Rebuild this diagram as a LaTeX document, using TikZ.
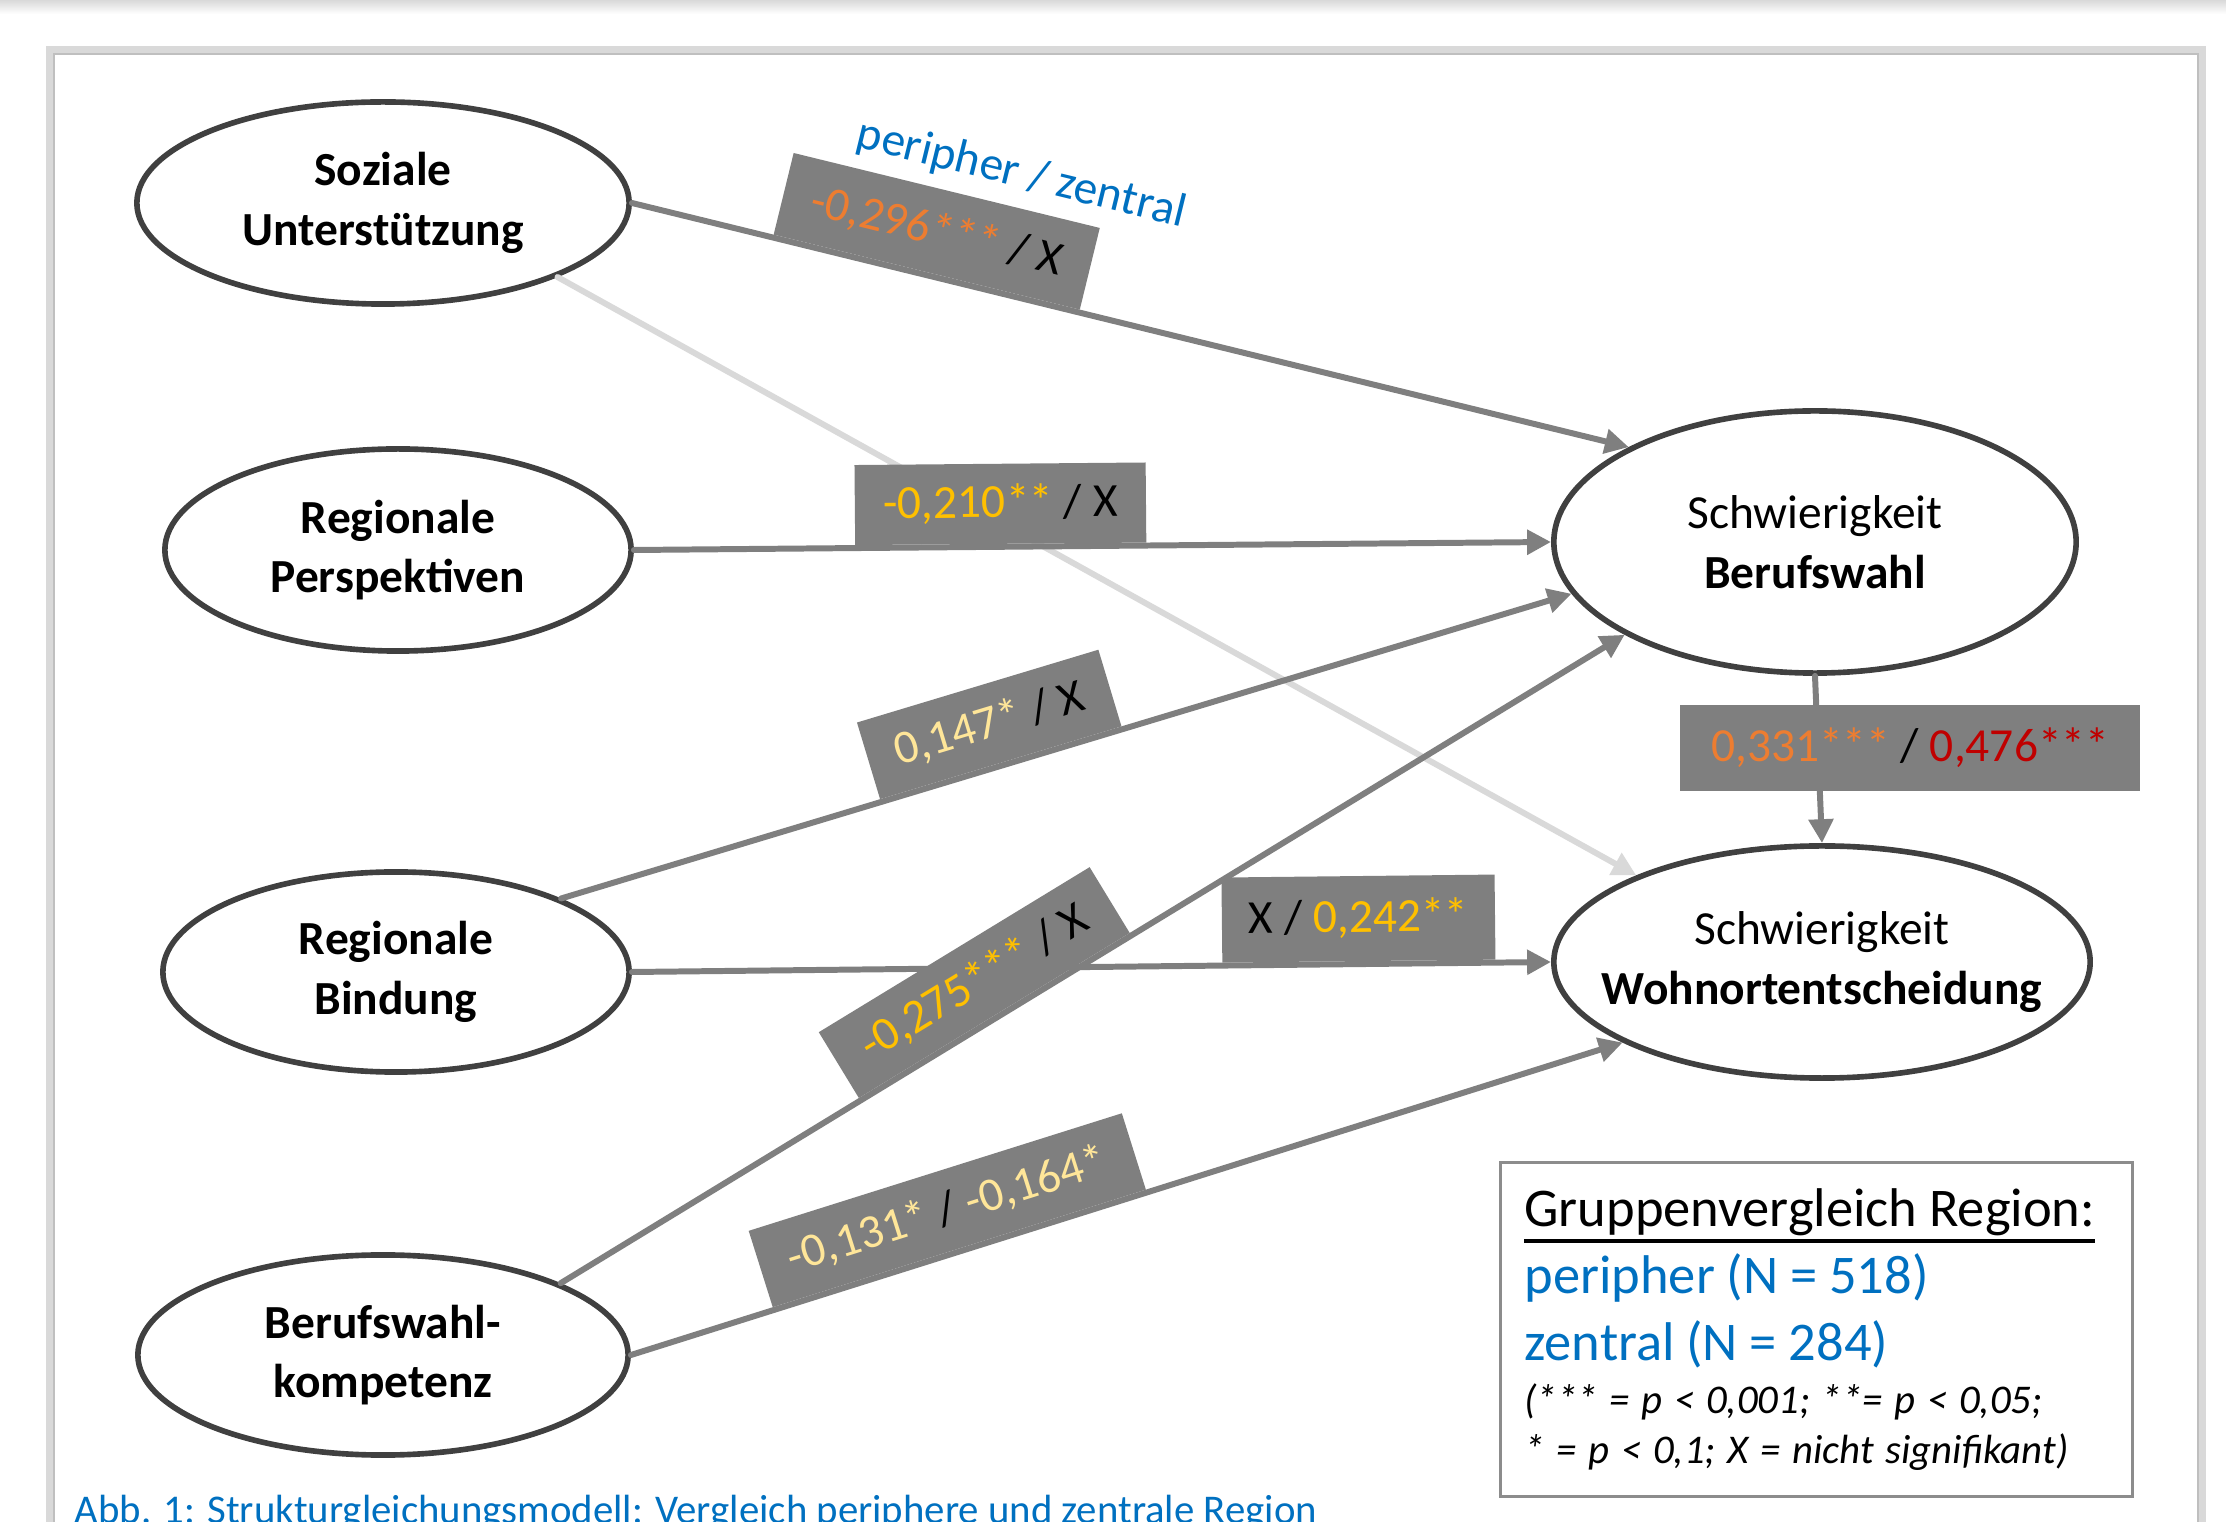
\documentclass[tikz,border=0pt]{standalone}
\usepackage{fontspec}
\setmainfont{Carlito}
\usetikzlibrary{arrows.meta,shapes.geometric}
\definecolor{edgegray}{HTML}{7F7F7F}
\definecolor{boxgray}{HTML}{7F7F7F}
\definecolor{ringgray}{HTML}{404040}
\definecolor{lightline}{HTML}{D9D9D9}
\definecolor{framegray}{HTML}{D9D9D9}
\definecolor{frameline}{HTML}{BFBFBF}
\definecolor{legendgray}{HTML}{8C8C8C}
\definecolor{orangeval}{HTML}{ED7D31}
\definecolor{goldval}{HTML}{FFC000}
\definecolor{paleval}{HTML}{FFE699}
\definecolor{redval}{HTML}{C00000}
\definecolor{refblue}{HTML}{0070C0}
% dicker Unterstrich fuer die Legende
\newcommand{\ulthick}[1]{\setbox0\hbox{#1}\rlap{\rule[-4.6pt]{\wd0}{0.9pt}}\box0}
\begin{document}
\begin{tikzpicture}[x=0.01cm, y=-0.01cm, line cap=round,
    latent/.style={ellipse, draw=ringgray, line width=1.6pt, fill=white,
      inner sep=0pt, align=center, font=\fontsize{13.5}{16.9}\selectfont\bfseries},
    effect/.style={draw=edgegray, line width=1.7pt,
      -{Triangle[length=6.8pt, width=6.8pt]}},
    coef/.style={fill=boxgray, inner sep=0pt, font=\fontsize{13.5}{16}\selectfont},
    oncoef/.style={coef, sloped, above}]
  \useasboundingbox (0,0) rectangle (2226,1522);
  % Rahmen
  \shade[top color=black!15, bottom color=white] (0,0) rectangle (2226,14);
  \draw[framegray, line width=0.08cm] (50,50) rectangle (2202,1620);
  \draw[frameline, line width=0.6pt] (54,54) rectangle (2198,1620);

  % Konstrukte
  \node[latent, minimum width=4.92cm, minimum height=2.02cm] (soz) at (383,203) {Soziale\\Unterstützung};
  \node[latent, minimum width=4.66cm, minimum height=2.02cm] (persp) at (398,550) {Regionale\\Perspektiven};
  \node[latent, minimum width=4.66cm, minimum height=2.0cm] (bind) at (396,972) {Regionale\\Bindung};
  \node[latent, minimum width=4.90cm, minimum height=2.0cm] (komp) at (383,1355) {Berufswahl-\\kompetenz};
  \node[latent, minimum width=5.22cm, minimum height=2.62cm] (beruf) at (1815,542) {{\mdseries Schwierigkeit}\\Berufswahl};
  \node[latent, minimum width=5.36cm, minimum height=2.32cm, inner xsep=-0.6cm] (wohn) at (1822,962) {{\mdseries Schwierigkeit}\\Wohnortentscheidung};

  % Pfade
  \draw[effect, draw=lightline] (soz.337) -- (wohn.155);
  \draw[effect] (soz.east) -- node[oncoef, minimum width=3.15cm, minimum height=0.84cm, pos=.295] (k1) {\textcolor{orangeval}{-0,296***} / X}
    node[sloped, pos=.362, yshift=1.2cm, text=refblue, font=\fontsize{13.5}{16}\selectfont] (gruppen) {peripher / zentral} (beruf.153.6);
  \draw[effect] (persp.east) -- node[oncoef, minimum width=2.91cm, minimum height=0.8cm, pos=.40] (k2) {\textcolor{goldval}{-0,210**} / X} (beruf.west);
  \draw[effect] (bind.24) -- node[oncoef, minimum width=2.52cm, minimum height=0.8cm, pos=.436] (k3) {\textcolor{paleval}{0,147*} / X} (beruf.192.4);
  \draw[effect] (bind.east) -- node[oncoef, minimum width=2.73cm, minimum height=0.85cm, pos=.791] (k5) {X / \textcolor{goldval}{0,242**}} (wohn.west);
  \draw[effect] (komp.22.3) -- node[oncoef, minimum width=3.17cm, minimum height=0.77cm, pos=.409] (k4) {\textcolor{goldval}{-0,275***} / X} (beruf.206.8);
  \draw[effect] (komp.east) -- node[oncoef, minimum width=3.91cm, minimum height=0.8cm, pos=.332] (k6) {\textcolor{paleval}{-0,131*} / \textcolor{paleval}{-0,164*}} (wohn.202.2);
  \draw[effect] (beruf.south) -- node[coef, minimum width=4.59cm, minimum height=0.86cm, pos=.43, xshift=0.92cm] (k7) {\textcolor{orangeval}{0,331***} / \textcolor{redval}{0,476***}} (wohn.north);

  % Legende
  \node[draw=legendgray, line width=0.8pt, anchor=north west, text width=5.84cm,
    inner xsep=0.24cm, minimum height=3.34cm, align=left] (legende) at (1499,1161) {%
    {\fontsize{15.5}{19}\selectfont\ulthick{Gruppenvergleich Region:}\par
    \color{refblue}peripher (N = 518)\par zentral (N = 284)\par}
    \vspace{1pt}
    {\fontsize{11.6}{14.2}\selectfont\itshape (*** = p < 0,001; **= p < 0,05;\par * = p < 0,1; X = nicht signifikant)\par}};

  % Beschriftung
  \node[anchor=base west, inner sep=0pt, text=refblue, font=\fontsize{11.6}{14}\selectfont] (caption) at (74,1524) {Abb. 1: Strukturgleichungsmodell: Vergleich periphere und zentrale Region};
\end{tikzpicture}
\end{document}
